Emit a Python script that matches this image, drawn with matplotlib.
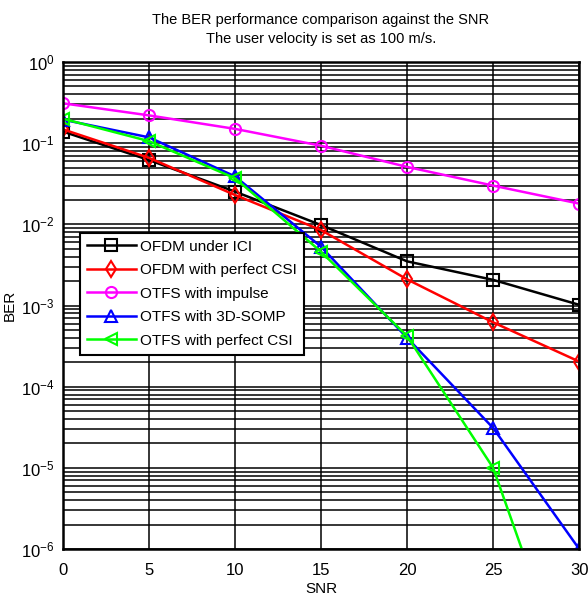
import matplotlib
matplotlib.use("Agg")
import matplotlib.pyplot as plt
import numpy as np
from matplotlib.ticker import LogLocator, NullFormatter, FixedLocator

plt.rcParams["font.family"] = ["Liberation Sans", "DejaVu Sans"]
plt.rcParams["mathtext.fontset"] = "custom"
plt.rcParams["mathtext.rm"] = "Liberation Sans"

snr = [0, 5, 10, 15, 20, 25, 30]

ofdm_ici = [0.139, 0.062, 0.0253, 0.0098, 0.0035, 0.00207, 0.00102]
ofdm_csi = [0.148, 0.066, 0.023, 0.0085, 0.0021, 0.00062, 0.000204]
otfs_impulse = [0.31, 0.22, 0.15, 0.093, 0.051, 0.030, 0.018]
otfs_somp = [0.195, 0.118, 0.039, 0.0053, 0.0004, 3.1e-5, 1.0e-6]
otfs_csi = [0.2, 0.106, 0.037, 0.0046, 0.00042, 1.0e-5, 1.0e-8]

series = [
    ("OFDM under ICI", ofdm_ici, "#000000", "s"),
    ("OFDM with perfect CSI", ofdm_csi, "#FF0000", "d"),
    ("OTFS with impulse", otfs_impulse, "#FF00FF", "o"),
    ("OTFS with 3D-SOMP", otfs_somp, "#0000FF", "^"),
    ("OTFS with perfect CSI", otfs_csi, "#00FF00", "<"),
]

fig = plt.figure(figsize=(5.88, 6.02), dpi=100)
ax = fig.add_axes([0.107, 0.088, 0.878, 0.809])

for label, vals, col, mk in series:
    ax.semilogy(snr, vals, color=col, marker=mk, markersize=8,
                markerfacecolor="none", markeredgewidth=1.5, linewidth=1.8,
                label=label)

ax.set_xlim(0, 30)
ax.set_ylim(1e-6, 1)
ax.xaxis.set_major_locator(FixedLocator(snr))
ax.yaxis.set_major_locator(LogLocator(base=10, numticks=10))
ax.yaxis.set_minor_locator(LogLocator(base=10, subs=np.arange(2, 10), numticks=20))
ax.yaxis.set_minor_formatter(NullFormatter())

ax.grid(True, which="major", axis="both", color="black", linestyle="-", linewidth=1.1)
ax.grid(True, which="minor", axis="y", color="black", linestyle="-", linewidth=1.1)
ax.set_axisbelow(True)
for sp in ax.spines.values():
    sp.set_linewidth(1.8)

ax.tick_params(axis="x", which="both", length=0, labelsize=12, pad=10)
ax.tick_params(axis="y", which="both", length=0, labelsize=12, pad=6)

ax.set_xlabel("SNR", fontsize=11, labelpad=3)
ax.set_ylabel("BER", fontsize=11, labelpad=3)
ax.set_title("The BER performance comparison against the SNR\n"
             "The user velocity is set as 100 m/s.", fontsize=10.5, pad=14,
             linespacing=1.45)

leg = ax.legend(loc="upper left", bbox_to_anchor=(0.033, 0.649), fontsize=11,
                frameon=True, fancybox=False, framealpha=1, edgecolor="black",
                handlelength=3.2, handletextpad=0.3, borderaxespad=0,
                labelspacing=0.62, borderpad=0.45)
leg.get_frame().set_linewidth(1.5)

fig.savefig("out.png", dpi=100)
